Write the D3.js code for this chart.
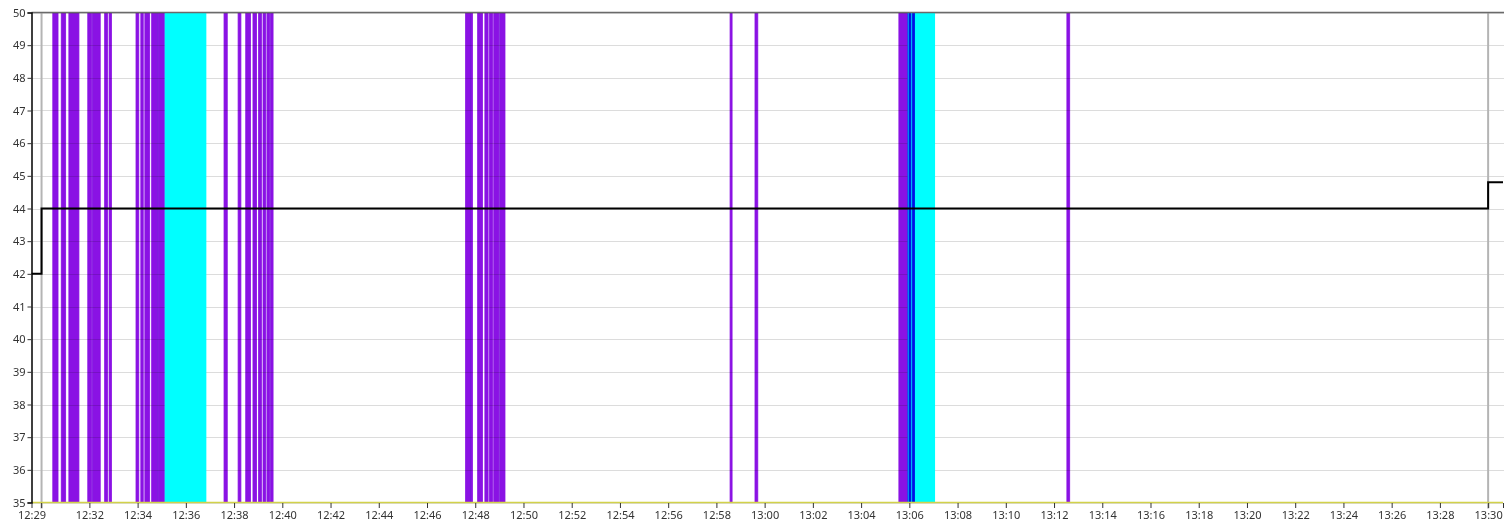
<!DOCTYPE html>
<html>
<head>
<meta charset="utf-8">
<script src="https://cdn.jsdelivr.net/npm/d3@7"></script>
<style>
  html, body { margin: 0; padding: 0; background: #fff; }
  svg { display: block; font-family: "Segoe UI", "Noto Sans", "Open Sans", sans-serif; }
</style>
</head>
<body>
<svg id="chart" width="1504" height="526"></svg>
<script>
// ---------- data ----------
const domainStart = "12:29:36";
const domainEnd = "13:30:37";
const yTicks = [35, 36, 37, 38, 39, 40, 41, 42, 43, 44, 45, 46, 47, 48, 49, 50];
const xTickTimes = ["12:29:36", "12:30:00", "12:32:00", "12:34:00", "12:36:00", "12:38:00", "12:40:00",
  "12:42:00", "12:44:00", "12:46:00", "12:48:00", "12:50:00", "12:52:00", "12:54:00", "12:56:00",
  "12:58:00", "13:00:00", "13:02:00", "13:04:00", "13:06:00", "13:08:00", "13:10:00", "13:12:00",
  "13:14:00", "13:16:00", "13:18:00", "13:20:00", "13:22:00", "13:24:00", "13:26:00", "13:28:00",
  "13:30:00", "13:30:37"];
const xTickLabels = ["12:29", "", "12:32", "12:34", "12:36", "12:38", "12:40",
  "12:42", "12:44", "12:46", "12:48", "12:50", "12:52", "12:54", "12:56",
  "12:58", "13:00", "13:02", "13:04", "13:06", "13:08", "13:10", "13:12",
  "13:14", "13:16", "13:18", "13:20", "13:22", "13:24", "13:26", "13:28",
  "13:30", ""];

// step series (black line)
const stepTimes = ["12:29:36", "12:30:01", "13:30:00", "13:30:37"];
const stepValues = [42, 44, 44.8, 44.8];

// cyan intervals
const cyanStart = ["12:35:07", "13:05:55"];
const cyanEnd   = ["12:36:51", "13:07:04"];

// purple intervals
const purpleStart = ["12:30:29", "12:30:50", "12:31:09", "12:31:56", "12:32:08", "12:32:38", "12:32:49",
  "12:33:56", "12:34:08", "12:34:18", "12:34:35", "12:34:51",
  "12:37:35", "12:38:10", "12:38:29", "12:38:47", "12:39:01", "12:39:12", "12:39:22", "12:39:31",
  "12:47:36", "12:47:48", "12:48:06", "12:48:24", "12:48:35", "12:48:46", "12:49:01",
  "12:58:34", "12:59:36",
  "13:05:34", "13:05:59", "13:06:08",
  "13:12:32"];
const purpleEnd = ["12:30:42", "12:31:01", "12:31:34", "12:32:06", "12:32:27", "12:32:45", "12:32:55",
  "12:34:03", "12:34:14", "12:34:30", "12:34:50", "12:35:06",
  "12:37:43", "12:38:17", "12:38:41", "12:38:56", "12:39:08", "12:39:19", "12:39:29", "12:39:37",
  "12:47:47", "12:47:53", "12:48:18", "12:48:32", "12:48:43", "12:48:59", "12:49:14",
  "12:58:39", "12:59:43",
  "13:05:55", "13:06:03", "13:06:13",
  "13:12:39"];

// baseline series (yellow) at 35
const baseTimes = ["12:29:36", "13:30:37"];
const baseValues = [35, 35];

// ---------- drawing ----------
(function () {
const parse = d3.timeParse("%H:%M:%S");
const svg = d3.select("#chart");
const W = 1504;
const mLeft = 31.5, mRight = 1503, mTop = 12.5, mBottom = 502.5;
const fontFam = "'Segoe UI','Noto Sans',sans-serif";

const x = d3.scaleTime().domain([parse(domainStart), parse(domainEnd)]).range([mLeft, mRight]);
const y = d3.scaleLinear().domain([35, 50]).range([mBottom, mTop]);

// horizontal grid
svg.append("g").selectAll("line").data(yTicks).join("line")
  .attr("x1", mLeft).attr("x2", W)
  .attr("y1", d => Math.round(y(d)) + 0.5).attr("y2", d => Math.round(y(d)) + 0.5)
  .attr("stroke", "#dcdcdc").attr("stroke-width", 1);

// cyan bands
svg.append("g").selectAll("rect").data(cyanStart.map((s, i) => [parse(s), parse(cyanEnd[i])])).join("rect")
  .attr("x", d => x(d[0])).attr("width", d => x(d[1]) - x(d[0]))
  .attr("y", y(50)).attr("height", y(35) - y(50))
  .attr("fill", "#00ffff");

// purple bars
svg.append("g").selectAll("rect")
  .data(purpleStart.map((s, i) => [parse(s), parse(purpleEnd[i])])).join("rect")
  .attr("x", d => x(d[0])).attr("width", d => Math.max(2, x(d[1]) - x(d[0])))
  .attr("y", y(50)).attr("height", y(35) - y(50))
  .attr("fill", "#8a12e4")
  .attr("stroke", "#8a12e4").attr("stroke-width", 0.8)
  .style("mix-blend-mode", "multiply");

// gray vertical markers at step changes
svg.append("g").selectAll("line").data([stepTimes[1], stepTimes[2]]).join("line")
  .attr("x1", d => x(parse(d))).attr("x2", d => x(parse(d)))
  .attr("y1", y(50)).attr("y2", y(35) + 6)
  .attr("stroke", "#b4b4b4").attr("stroke-width", 2);

// top border
svg.append("line").attr("x1", mLeft).attr("x2", W).attr("y1", y(50)).attr("y2", y(50))
  .attr("stroke", "#6a6a6a").attr("stroke-width", 1.5);

// yellow baseline
const lineGen = d3.line().x(d => x(d[0])).y(d => y(d[1]));
svg.append("path")
  .datum(baseTimes.map((t, i) => [parse(t), baseValues[i]]))
  .attr("d", lineGen).attr("fill", "none")
  .attr("stroke", "#d2d24a").attr("stroke-width", 1.5);

// step line
const stepGen = d3.line().curve(d3.curveStepAfter).x(d => x(d[0])).y(d => y(d[1]));
svg.append("path")
  .datum(stepTimes.map((t, i) => [parse(t), stepValues[i]]))
  .attr("d", stepGen)
  .attr("fill", "none").attr("stroke", "#000").attr("stroke-width", 2);

// y axis
const yAxis = d3.axisLeft(y).tickValues(yTicks).tickSize(4).tickPadding(2).tickFormat(d3.format("d"));
const gy = svg.append("g").attr("transform", `translate(${mLeft},0)`).call(yAxis);
gy.select(".domain").attr("stroke", "#000").attr("stroke-width", 1.5);
gy.selectAll(".tick line").attr("stroke", "#333");
gy.selectAll(".tick text").attr("font-size", 11).attr("fill", "#333").attr("font-family", fontFam);

// x axis
const xTickDates = xTickTimes.map(parse);
const xAxis = d3.axisBottom(x).tickValues(xTickDates).tickSize(5).tickPadding(3)
  .tickFormat((d, i) => xTickLabels[i]);
const gx = svg.append("g").attr("transform", `translate(0,${mBottom + 0.5})`).call(xAxis);
gx.select(".domain").remove();
gx.selectAll(".tick line").attr("stroke", "#333");
gx.selectAll(".tick text").attr("font-size", 11).attr("fill", "#333").attr("font-family", fontFam);
})();
</script>
</body>
</html>
